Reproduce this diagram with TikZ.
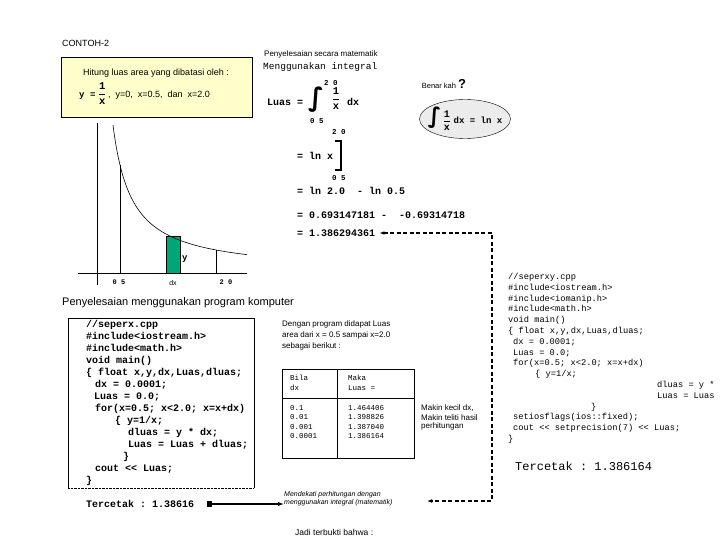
\documentclass[tikz,border=0pt]{standalone}
\usepackage{fontspec}
\setmainfont{Liberation Sans}
\setmonofont{Liberation Mono}
\newfontfamily\simbol{DejaVu Sans}
\usetikzlibrary{shapes.geometric,arrows.meta}
\definecolor{kuning}{RGB}{255,255,204}
\definecolor{hijau}{RGB}{0,166,120}
\definecolor{abu}{RGB}{236,236,236}
\newcommand{\ukuran}[2]{\fontsize{#1}{#2}\selectfont}
\newcommand{\pecahan}{$\displaystyle\frac{\mbox{\ttfamily\bfseries 1}}{\mbox{\ttfamily\bfseries x}}$}

\begin{document}
\begin{tikzpicture}[x=1pt, y=-1pt,
  txt/.style={inner sep=0pt, anchor=west},
  blok/.style={inner sep=0pt, anchor=north west, align=left},
  mono/.style={font=\ttfamily\bfseries\ukuran{10}{12}}]
\useasboundingbox[fill=white] (0,0) rectangle (720,540);

% judul dan soal
\node[txt, font=\ukuran{9}{10}] (judul) at (62,43) {CONTOH-2};
\draw[fill=kuning] (61,57) rectangle (252,117);
\node[inner sep=0pt, font=\ukuran{9}{10}] (soal) at (156,73) {Hitung luas area yang dibatasi oleh :};
\node[txt, font=\ukuran{9}{10}] (fungsi) at (79,94) {{\ttfamily\bfseries y =} {\ukuran{10.5}{12}\pecahan}\,,~ y=0,~ x=0.5,~ dan~ x=2.0};

% grafik y = 1/x
\draw (97,123) -- (97,285);
\draw (78,273) -- (247,273);
\draw[fill=hijau] (166,236) rectangle (180,273);
\draw[semithick] plot[domain=113:247, samples=80, smooth] (\x,{273-2808/(\x-94)});
\draw (120,165) -- (120,273);
\draw (216,250) -- (216,273);
\node[txt, font=\ttfamily\bfseries\ukuran{9}{10}] (ylabel) at (182,259) {y};
\node[inner sep=0pt, font=\ttfamily\bfseries\ukuran{7}{8}] (batasa) at (119,282) {0 5};
\node[inner sep=0pt, font=\ukuran{7}{8}] (dxlabel) at (173,283) {dx};
\node[inner sep=0pt, font=\ttfamily\bfseries\ukuran{7}{8}] (batasb) at (226,282) {2 0};

% penyelesaian matematik
\node[txt, font=\ukuran{8}{10}] (matematik) at (264,54) {Penyelesaian secara matematik};
\node[txt, font=\ttfamily\ukuran{9.5}{10}] (integral) at (263,67) {Menggunakan integral};
\node[txt, mono] (luas) at (267,102) {Luas =};
\node[inner sep=0pt, font=\simbol\bfseries\ukuran{26}{26}] (tanda) at (316,100) {∫};
\node[txt, font=\ttfamily\bfseries\ukuran{7.5}{8}] (atas) at (324,83) {2 0};
\node[txt, font=\ttfamily\bfseries\ukuran{7.5}{8}] (bawah) at (310,121) {0 5};
\node[inner sep=0pt, font=\ukuran{10.5}{12}] (frac) at (336,99) {\pecahan};
\node[txt, mono] (dx) at (347,102) {dx};
\node[inner sep=0pt, font=\ukuran{7.5}{9}] (benar) at (444,84) {Benar kah {\ukuran{13}{13}\bfseries ?}};
\node[draw, ellipse, fill=abu, minimum width=91pt, minimum height=39pt, inner sep=0pt] (oval) at (465,119) {};
\node[inner sep=0pt, font=\ukuran{9}{10}] (rumus) at (oval.center) {{\simbol\bfseries\ukuran{22}{22}∫}\,{\ukuran{10}{12}\pecahan}~{\ttfamily\bfseries dx = ln x}};

\node[txt, font=\ttfamily\bfseries\ukuran{7.5}{8}] (atas2) at (332,132) {2 0};
\node[txt, mono] (lnx) at (297,156) {= ln x};
\draw[line width=1.8pt] (335,141) -- (341,141) -- (341,170) -- (335,170);
\node[txt, font=\ttfamily\bfseries\ukuran{7.5}{8}] (bawah2) at (332,178) {0 5};
\node[txt, mono] (selisih) at (297,191) {= ln 2.0~ - ln 0.5};
\node[txt, mono] (angka) at (297,215) {= 0.693147181 -~ -0.69314718};
\node[txt, mono] (hasil) at (297,233) {= 1.386294361};

% penyelesaian program
\node[txt, font=\ukuran{11}{12}] (program) at (62,303) {Penyelesaian menggunakan program komputer};
\draw (68,488) -- (68,318) -- (254,318) -- (254,488);
\draw[densely dotted] (68,488) -- (254,488);
\node[blok, mono] (kode) at (86,320) {//seperx.cpp\\
\#include<iostream.h>\\
\#include<math.h>\\
void main()\\
\{ float x,y,dx,Luas,dluas;\\
\hspace*{9pt}dx = 0.0001;\\
\hspace*{8pt}Luas = 0.0;\\
\hspace*{9pt}for(x=0.5; x<2.0; x=x+dx)\\
\hspace*{29pt}\{ y=1/x;\\
\hspace*{42pt}dluas = y * dx;\\
\hspace*{42pt}Luas = Luas + dluas;\\
\hspace*{37pt}\}\\
\hspace*{9pt}cout <{}< Luas;\\
\}};
\node[txt, mono] (cetak) at (86,504) {Tercetak : 1.38616};

\node[blok, font=\ukuran{8}{11}] (dengan) at (282,321) {Dengan program didapat Luas\\area dari x = 0.5 sampai x=2.0\\sebagai berikut :};
\draw (282,369) rectangle (414,458);
\draw (337,369) -- (337,458);
\draw (282,398) -- (414,398);
\node[blok, font=\ttfamily\ukuran{7.5}{10}] (bila) at (290,375) {Bila\\dx};
\node[blok, font=\ttfamily\ukuran{7.5}{10}] (maka) at (348,375) {Maka\\Luas =};
\node[blok, font=\ttfamily\ukuran{7.5}{9.5}] (dxnilai) at (290,405) {0.1\\0.01\\0.001\\0.0001};
\node[blok, font=\ttfamily\ukuran{7.5}{9.5}] (luasnilai) at (348,405) {1.464406\\1.398826\\1.387040\\1.386164};
\node[blok, font=\ukuran{8}{9}] (makin) at (421,405) {Makin kecil dx,\\Makin teliti hasil\\perhitungan};

\node[txt, align=left, font=\itshape\ukuran{7}{8}] (mend) at (284,499) {Mendekati perhitungan dengan\\menggunakan integral (matematik)};
\node[txt, font=\ukuran{8.5}{10}] (jadi) at (295,532) {Jadi terbukti bahwa :};

% program kedua
\node[blok, font=\ttfamily\ukuran{8.7}{10.8}] (kode2) at (508,273) {//seperxy.cpp\\
\#include<iostream.h>\\
\#include<iomanip.h>\\
\#include<math.h>\\
void main()\\
\{ float x,y,dx,Luas,dluas;\\
\hspace*{5pt}dx = 0.0001;\\
\hspace*{5pt}Luas = 0.0;\\
\hspace*{5pt}for(x=0.5; x<2.0; x=x+dx)\\
\hspace*{27pt}\{ y=1/x;\\
\hspace*{149pt}dluas = y *\\
\hspace*{149pt}Luas = Luas\\
\hspace*{83pt}\}\\
\hspace*{5pt}setiosflags(ios::fixed);\\
\hspace*{5pt}cout <{}< setprecision(7) <{}< Luas;\\
\}};
\node[txt, font=\ttfamily\ukuran{12}{12}] (cetak2) at (515,466) {Tercetak : 1.386164};

% panah
\coordinate (sudut) at (492,233);
\coordinate (ujung) at (427,501);
\draw[line width=1.2pt, dash pattern=on 4pt off 2.5pt, {Latex[length=5pt]}-{Latex[length=5pt]}] ([xshift=4pt]hasil.east) -- (sudut) |- (ujung);
\draw[line width=1.3pt, {Square[length=5pt,width=6pt]}-{Latex[length=6pt]}] ([xshift=13pt]cetak.east) -- (cetak.east -| mend.west);
\end{tikzpicture}
\end{document}
